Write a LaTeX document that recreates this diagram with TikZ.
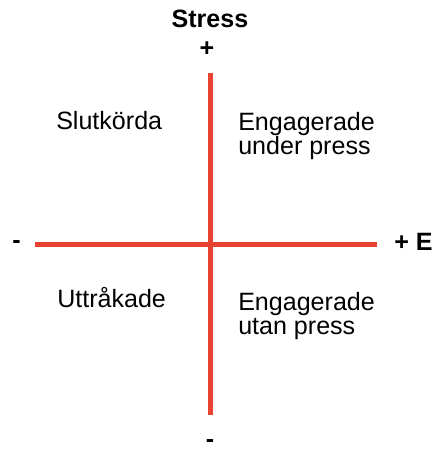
\documentclass[tikz,border=0pt]{standalone}
\usepackage{fontspec}
\setmainfont{Liberation Sans}
\definecolor{axisred}{RGB}{232,67,48}
\begin{document}
\begin{tikzpicture}[x=0.75pt,y=-0.75pt,
  axis/.style={draw=axisred,line width=3.75pt},
  lbl/.style={inner sep=0pt,font=\fontsize{18.8pt}{22pt}\selectfont},
  blbl/.style={inner sep=0pt,font=\fontsize{18.8pt}{22pt}\selectfont\bfseries}]
\useasboundingbox (0,0) rectangle (433,453);
\coordinate (hl) at (35,244);
\coordinate (hr) at (377,244);
\coordinate (vt) at (210,73);
\coordinate (vb) at (210,415);
\draw[axis] (hl) -- (hr);
\draw[axis] (vt) -- (vb);
\node[blbl,anchor=base] (stress) at (210,28) {Stress};
\node[blbl,anchor=center] (plustop) at (207,49) {+};
\node[blbl,anchor=base west] (plusright) at (394,250) {+ E};
\node[blbl,anchor=center] (minusleft) at (16.5,245) {-};
\node[blbl,anchor=center] (minusbottom) at (210,443) {-};
\node[lbl,anchor=base west] (slut) at (56,129) {Slutkörda};
\node[lbl,anchor=base west] (eng1) at (238,130) {Engagerade};
\node[lbl,anchor=base west] (eng2) at (238,154) {under press};
\node[lbl,anchor=base west] (uttr) at (57,307) {Uttråkade};
\node[lbl,anchor=base west] (eng3) at (238,310) {Engagerade};
\node[lbl,anchor=base west] (eng4) at (238,334) {utan press};
\end{tikzpicture}
\end{document}
